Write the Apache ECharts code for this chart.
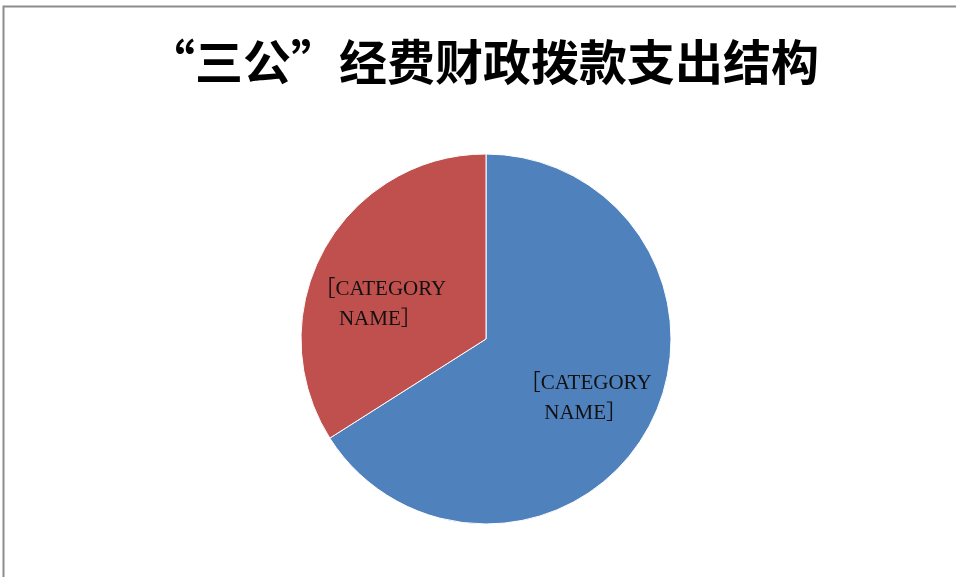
<!DOCTYPE html>
<html>
<head>
<meta charset="utf-8">
<script src="https://cdn.jsdelivr.net/npm/echarts@6/dist/echarts.min.js"></script>
<style>html,body{margin:0;padding:0;background:#fff}#c{width:956px;height:577px}</style>
</head>
<body>
<div id="c"></div>
<script>
const titleText = '“三公”经费财政拨款支出结构';
const categories = ['［CATEGORY\nNAME］', '［CATEGORY\nNAME］'];
const values = [66.0, 34.0];
const colors = ['#4F81BD', '#C0504D'];
const labelShift = [[16, 13], [-22, 11]];

const chart = echarts.init(document.getElementById('c'));
chart.setOption({
  animation: false,
  backgroundColor: '#fff',
  title: {
    text: titleText,
    left: 478,
    top: 33,
    textAlign: 'center',
    textStyle: {
      fontFamily: '"Noto Sans CJK SC", sans-serif',
      fontWeight: 'bold',
      fontSize: 48,
      color: '#000'
    }
  },
  graphic: [{
    type: 'rect',
    shape: { x: 3.5, y: 6.5, width: 1200, height: 1200 },
    style: { fill: 'none', stroke: '#8c8c8c', lineWidth: 2 },
    silent: true
  }],
  series: [{
    type: 'pie',
    center: [486, 339],
    radius: [0, 185],
    startAngle: 90,
    clockwise: true,
    data: values.map((v, i) => ({ value: v, name: categories[i], itemStyle: { color: colors[i] } })),
    itemStyle: { borderColor: '#fff', borderWidth: 1 },
    label: {
      show: true,
      position: 'inner',
      formatter: '{b}',
      color: '#111',
      fontFamily: '"Liberation Serif", "Noto Sans CJK SC", serif',
      fontSize: 21,
      lineHeight: 30,
      align: 'center'
    },
    labelLine: { show: false },
    labelLayout: function (p) {
      return { dx: labelShift[p.dataIndex][0], dy: labelShift[p.dataIndex][1] };
    },
    emphasis: { disabled: true }
  }]
});
</script>
</body>
</html>
